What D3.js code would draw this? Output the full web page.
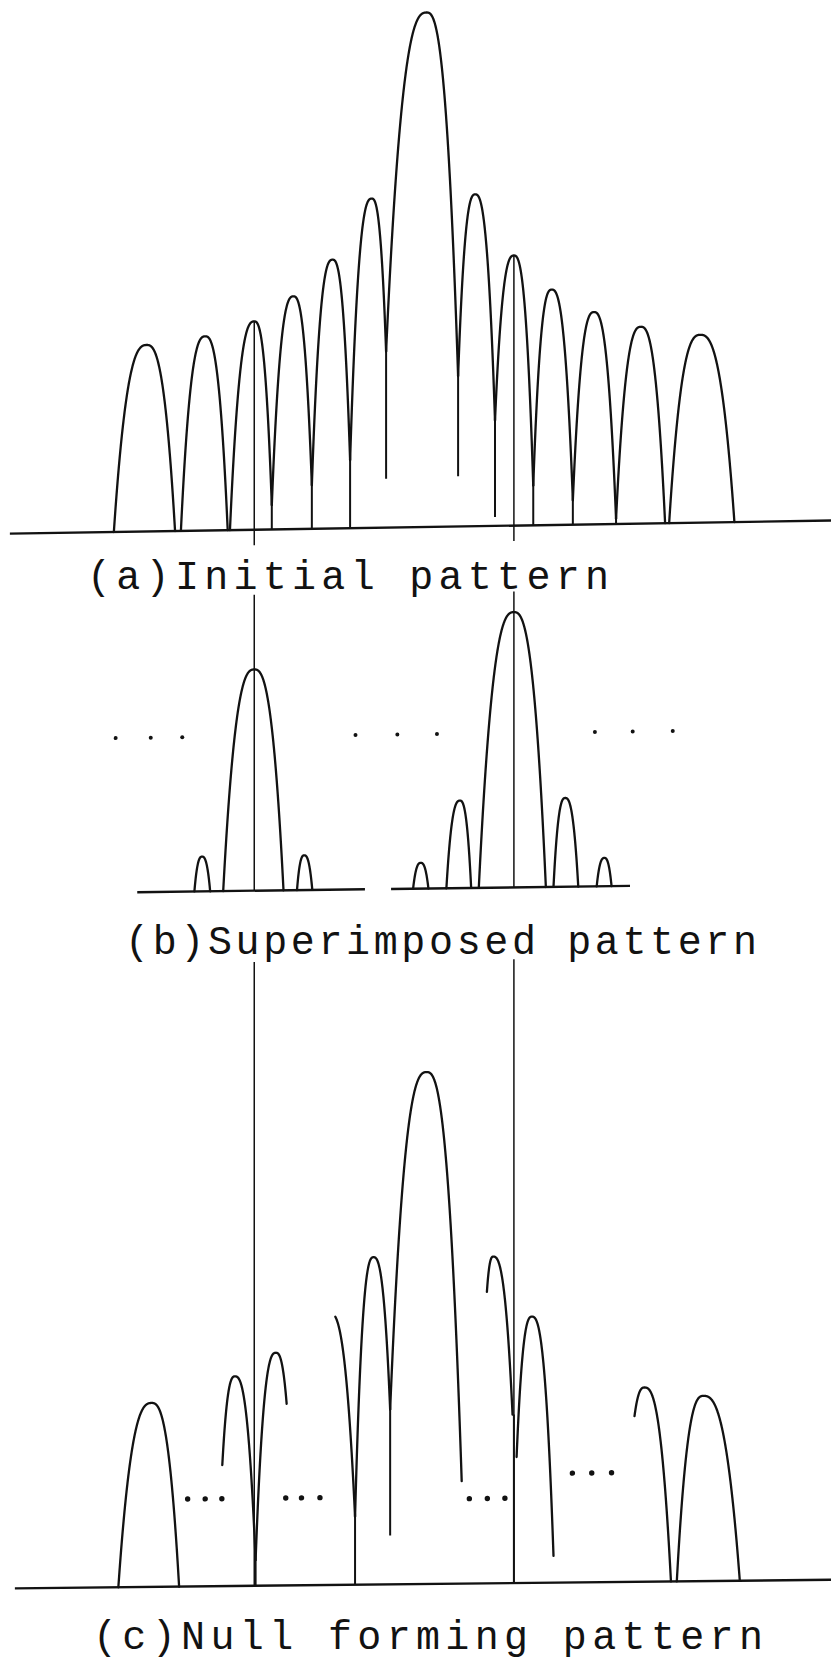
<!DOCTYPE html>
<html>
<head>
<meta charset="utf-8">
<script src="https://cdn.jsdelivr.net/npm/d3@7"></script>
<style>
  html, body { margin: 0; padding: 0; background: #fff; }
  svg { display: block; }
</style>
</head>
<body>
<svg id="fig" width="831" height="1663"></svg>
<script>
// Antenna patterns: angle off boresight (deg) vs. level (dB, floor at -40 dB).
// Each lobe: [leftEnd, leftLevel, peakAngle, peakLevel, rightEnd, rightLevel, cutLeft, cutRight]
// cutLeft / cutRight trim a lobe that is only partly drawn.

const lobesA = [
  [-69.5, -40,   -62.2, -25.5, -55.9, -40],
  [-54.6, -40,   -49.2, -24.9, -44.2, -40],
  [-43.7, -40,   -38.3, -23.8, -34.4, -38.1],
  [-34.4, -38.1, -29.6, -21.9, -25.5, -36.6],
  [-25.5, -36.6, -20.9, -19.1, -17.0, -34.7],
  [-17.0, -34.7, -12.2, -14.4,  -9.0, -26.3],
  [ -9.0, -26.3,   0.0,   0.0,   7.0, -28.3],
  [  7.0, -28.3,  10.8, -14.2,  15.2, -31.8],
  [ 15.2, -31.8,  19.4, -19.0,  23.7, -36.9],
  [ 23.7, -36.9,  27.8, -21.7,  32.5, -38.1],
  [ 32.5, -38.1,  37.2, -23.5,  42.1, -39.6],
  [ 42.1, -39.6,  47.6, -24.7,  53.0, -40],
  [ 53.9, -40,    60.8, -25.4,  68.4, -40]
];
// Null spikes: [angle, top level, bottom level]
const nullsA = [
  [-34.4, -38.1, -40], [-25.5, -36.6, -40], [-17.0, -34.7, -40],
  [-9.0, -26.3, -36.2], [7.0, -28.3, -36.1], [15.2, -31.8, -39.3],
  [23.7, -36.9, -40], [32.5, -38.1, -40], [42.1, -39.6, -40]
];
const baselinesA = [[-92.6, 89.9]];

const lobesB = [
  [-51.6, -40, -49.9, -37.3, -48.1, -40],
  [-45.2, -40, -38.3, -22.8, -31.8, -40],
  [-28.8, -40, -27.2, -37.3, -25.4, -40],
  [ -3.0, -40,  -1.3, -38.0,   0.4, -40],
  [  4.4, -40,   7.4, -33.2,   9.9, -40],
  [ 11.6, -40,  19.4, -18.6,  26.5, -40],
  [ 28.2, -40,  30.8, -33.1,  33.7, -40],
  [ 37.8, -40,  39.5, -37.8,  41.1, -40]
];
const baselinesB = [[-64.3, -13.7], [-7.9, 45.2]];
const dotsB = [
  [-69.1, -28], [-61.3, -28], [-54.3, -28],
  [-15.8, -28], [-6.5, -28], [2.3, -28],
  [37.4, -28], [45.8, -28], [54.7, -28]
];

const lobesC = [
  [-68.5, -40,   -61.1, -25.7, -55.0, -40],
  [-46.5, -40,   -42.6, -23.7, -38.0, -38.0, -45.4, null],
  [-38.0, -38.0, -33.5, -21.9, -29.2, -40,   null, -31.1],
  [-36.0, -40,   -21.5, -18.85, -15.9, -34.7, -20.3, null],
  [-15.9, -34.7, -11.8, -14.55, -8.1, -26.4],
  [ -8.1, -26.4,   0.0,  -0.2,   8.5, -40,   null, 7.8],
  [ 11.5, -40,    14.8, -14.6,  19.1, -26.9, 13.4, null],
  [ 20.0, -30.2,  23.4, -19.3,  28.4, -40,   null, 28.2],
  [ 43.8, -40,    48.4, -24.9,  54.3, -40,   46.2, null],
  [ 55.6, -40,    61.5, -25.6,  69.6, -40]
];
const nullsC = [
  [-38.0, -38.0, -40], [-15.9, -34.7, -40], [-8.1, -26.4, -36.2], [19.4, -26.9, -40]
];
const baselinesC = [[-91.5, 89.9]];
const dotsC = [
  [-53.1, -33.2], [-49.2, -33.2], [-45.5, -33.2],
  [-31.3, -33.2], [-27.8, -33.2], [-23.7, -33.2],
  [9.5, -33.4], [13.5, -33.4], [17.4, -33.4],
  [32.4, -31.5], [36.7, -31.5], [41.1, -31.5]
];

// Directions marked across the three panels, with the level span drawn in each panel
const refAngles = [-38.3, 19.4];
const refSpansA = [[-23.8, -41.2], [-19.0, -41.2]];
const refSpansB = [[-17.0, -40], [-17.0, -40]];
const refSpansC = [[8.5, -40], [8.5, -40]];

const labels = ["(a)Initial pattern", "(b)Superimposed pattern", "(c)Null forming pattern"];

// ---- layout ----
const svg = d3.select("#fig");
const ink = "#121212";
const cx = 426.6;
const x = d3.scaleLinear().domain([-90, 90]).range([cx - 405, cx + 405]);
const panelH = 514.5;
const SHAPE = 2.6;

function levelAt(d, a) {
  const [l, lv, p, pv, r, rv] = d;
  if (a <= p) {
    if (p === l) return pv;
    const t = Math.min(1, (p - a) / (p - l));
    return lv + (pv - lv) * (1 - Math.pow(t, SHAPE));
  }
  const t = Math.min(1, (a - p) / (r - p));
  return rv + (pv - rv) * (1 - Math.pow(t, SHAPE));
}

function lobeSamples(d) {
  const a0 = d[6] != null ? d[6] : d[0];
  const a1 = d[7] != null ? d[7] : d[4];
  const pts = [];
  for (let a = a0; a < a1; a += 0.04) pts.push(a);
  pts.push(a1);
  if (d[2] > a0 && d[2] < a1) pts.push(d[2]);
  pts.sort((m, n) => m - n);
  return pts.map(a => [a, levelAt(d, a)]);
}

function drawPanel(cfg) {
  const y = d3.scaleLinear().domain([-40, 0]).range([cfg.base, cfg.base - panelH]);
  const g = svg.append("g")
    .attr("transform", `translate(${cx},${cfg.base}) skewY(${cfg.skew}) translate(${-cx},${-cfg.base})`);
  const line = d3.line().x(p => x(p[0])).y(p => y(p[1]));

  g.selectAll("line.base").data(cfg.baselines).join("line")
    .attr("class", "base")
    .attr("x1", d => x(d[0])).attr("x2", d => x(d[1]))
    .attr("y1", y(-40)).attr("y2", y(-40))
    .attr("stroke", ink).attr("stroke-width", 2.4);

  g.selectAll("line.ref").data(refAngles).join("line")
    .attr("class", "ref")
    .attr("x1", d => x(d)).attr("x2", d => x(d))
    .attr("y1", (d, i) => y(cfg.refSpans[i][0]))
    .attr("y2", (d, i) => y(cfg.refSpans[i][1]))
    .attr("stroke", ink).attr("stroke-width", 1.5);

  g.selectAll("line.null").data(cfg.nulls || []).join("line")
    .attr("class", "null")
    .attr("x1", d => x(d[0])).attr("x2", d => x(d[0]))
    .attr("y1", d => y(d[1])).attr("y2", d => y(d[2]))
    .attr("stroke", ink).attr("stroke-width", 2);

  g.selectAll("path.lobe").data(cfg.lobes).join("path")
    .attr("class", "lobe")
    .attr("d", d => line(lobeSamples(d)))
    .attr("fill", "none").attr("stroke", ink)
    .attr("stroke-width", 2.3).attr("stroke-linejoin", "round").attr("stroke-linecap", "round");

  g.selectAll("circle.dot").data(cfg.dots || []).join("circle")
    .attr("class", "dot")
    .attr("cx", d => x(d[0])).attr("cy", d => y(d[1]))
    .attr("r", cfg.dotR).attr("fill", ink);
}

drawPanel({ base: 527,    skew: -0.917, lobes: lobesA, nulls: nullsA, baselines: baselinesA, refSpans: refSpansA });
drawPanel({ base: 888.5,  skew: -0.728, lobes: lobesB, baselines: baselinesB, dots: dotsB, dotR: 2, refSpans: refSpansB });
drawPanel({ base: 1584,   skew: -0.602, lobes: lobesC, nulls: nullsC, baselines: baselinesC, dots: dotsC, dotR: 2.7, refSpans: refSpansC });

// ---- captions ----
const captionPos = [[87, 589, 522], [125, 954, 632], [93, 1649, 670]];
svg.selectAll("text.cap").data(labels).join("text")
  .attr("class", "cap")
  .attr("x", (d, i) => captionPos[i][0])
  .attr("y", (d, i) => captionPos[i][1])
  .attr("textLength", (d, i) => captionPos[i][2])
  .attr("lengthAdjust", "spacing")
  .attr("font-family", "'Liberation Mono', 'DejaVu Sans Mono', monospace")
  .attr("font-size", 40)
  .attr("fill", ink)
  .text(d => d);
</script>
</body>
</html>
